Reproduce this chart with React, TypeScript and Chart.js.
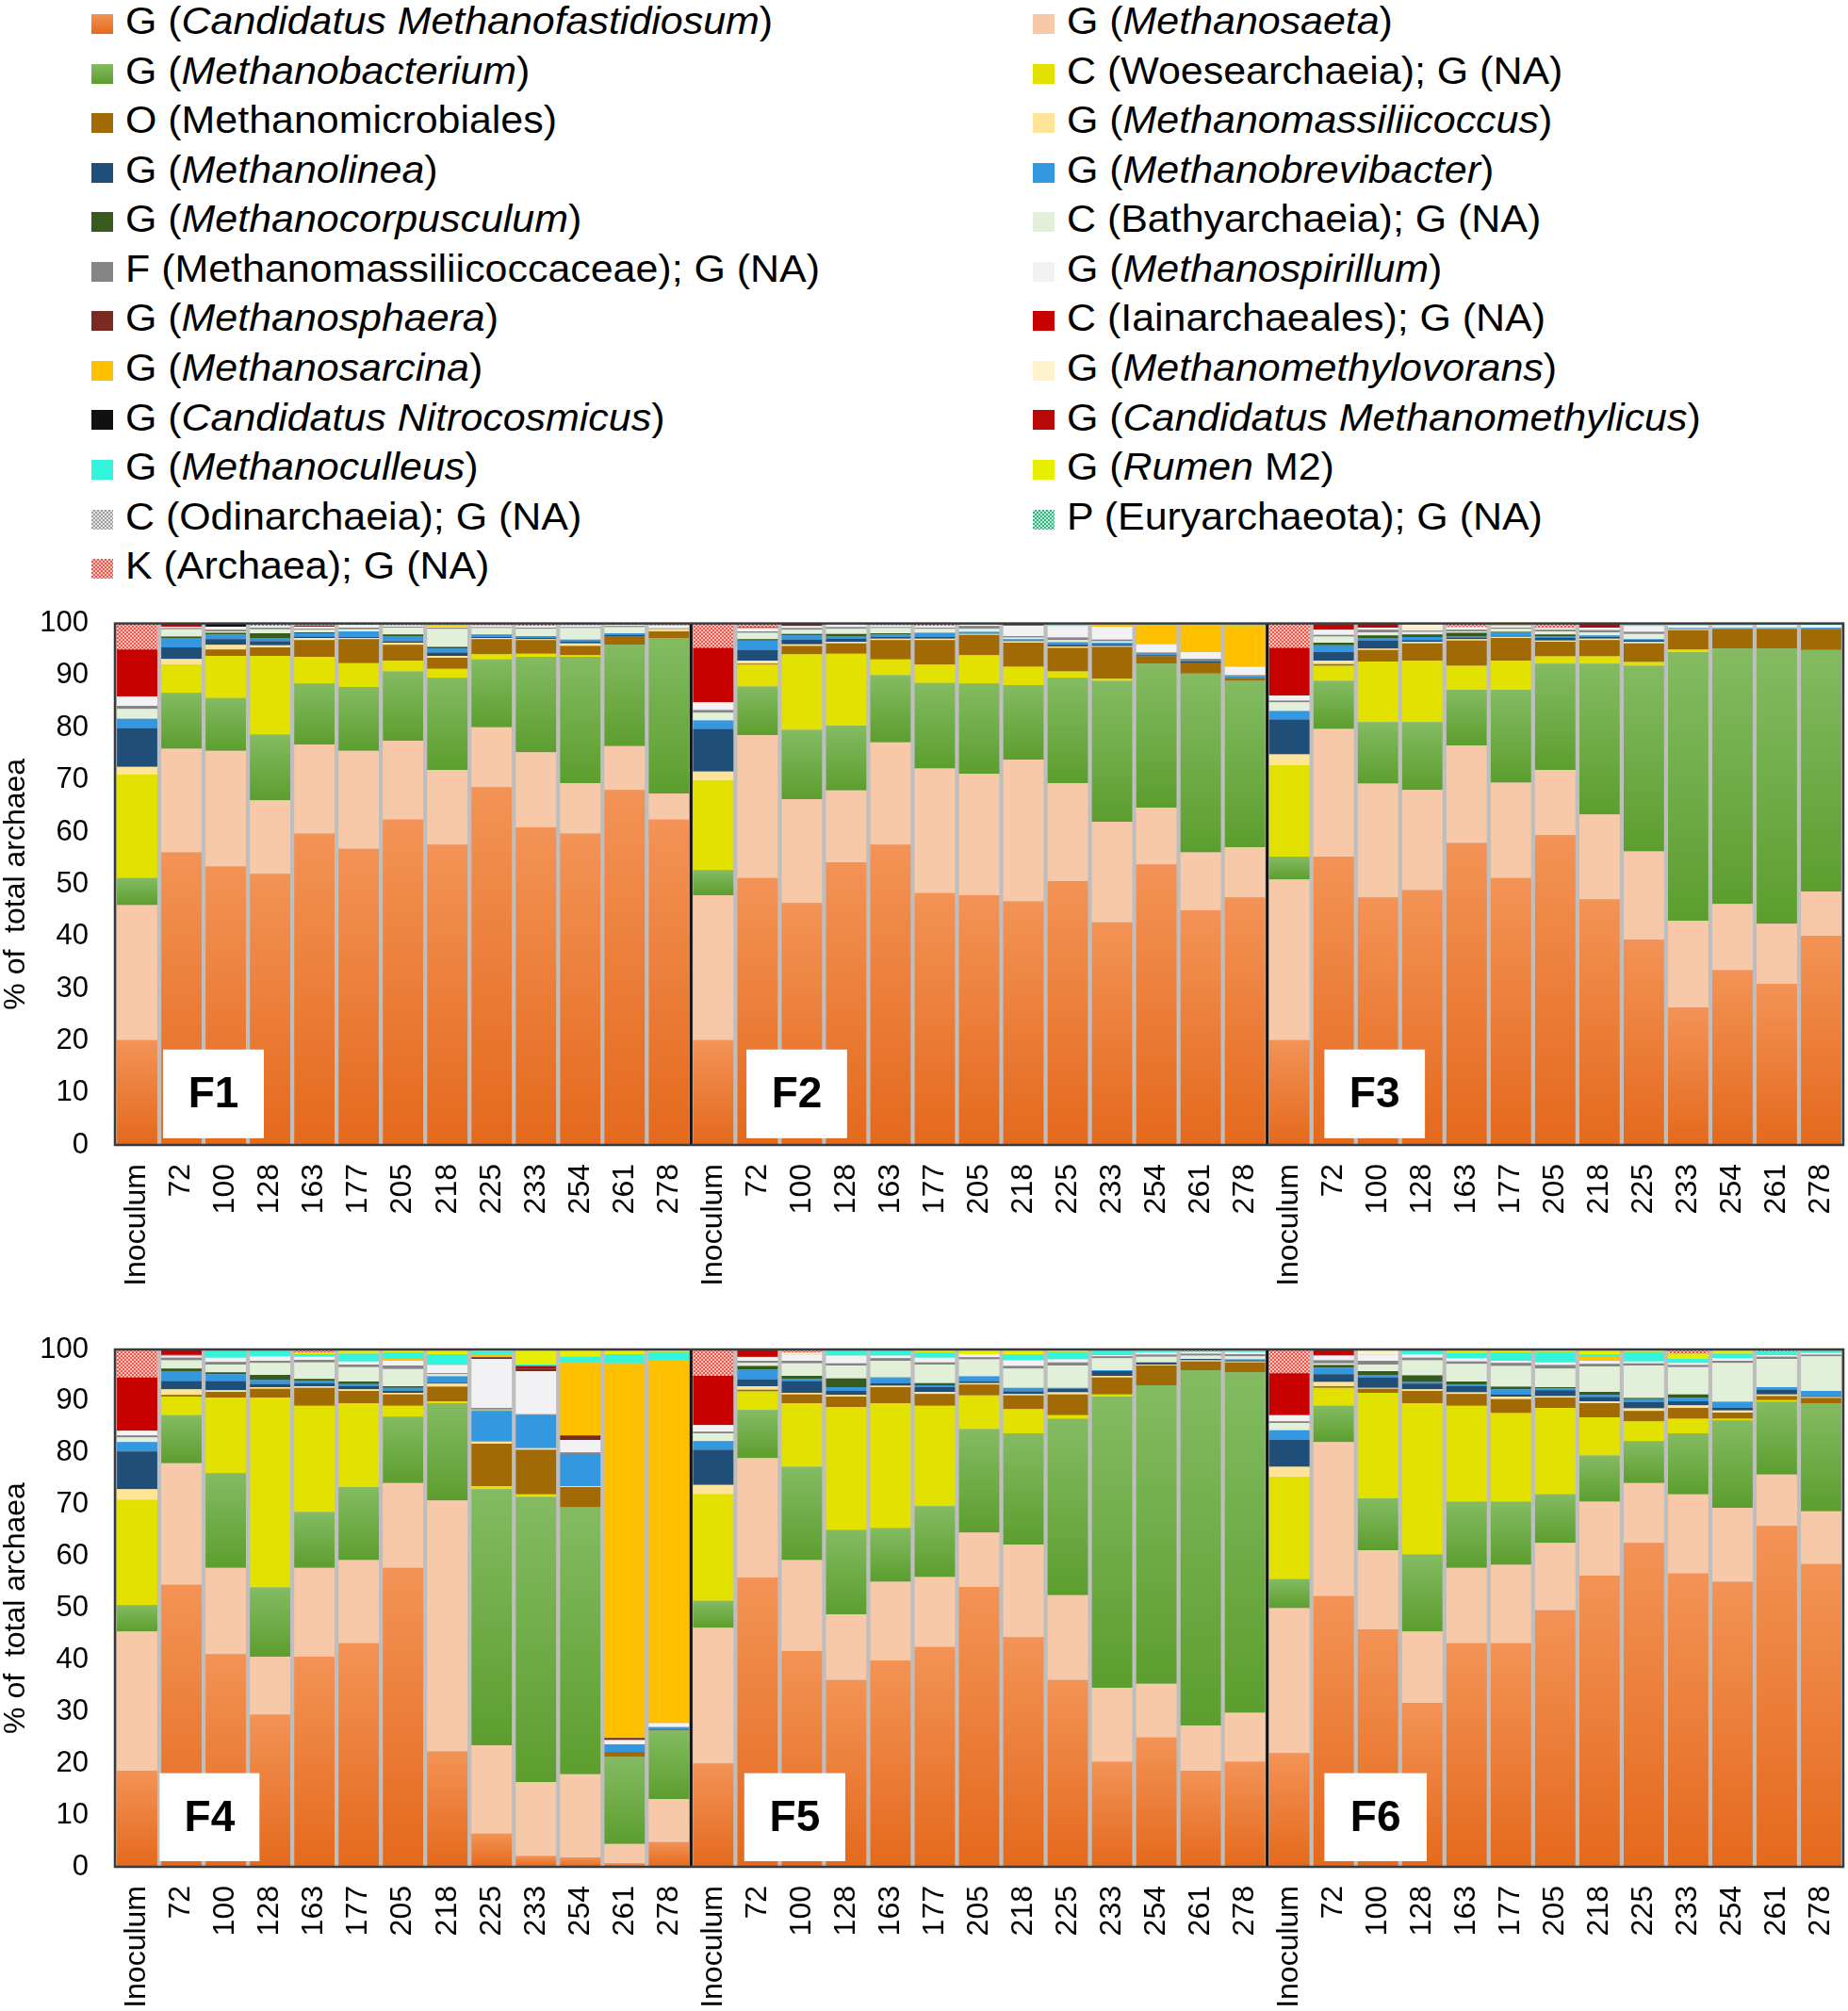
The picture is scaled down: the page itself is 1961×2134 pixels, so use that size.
import React, { useEffect, useRef } from 'react';
import { Chart, registerables } from 'chart.js';

Chart.register(...registerables);

const FONT = '"Liberation Sans", Arial, Helvetica, sans-serif';
Chart.defaults.font.family = FONT;

// ---------- categories / tick labels ----------
const TIMEPOINTS = ['Inoculum', '72', '100', '128', '163', '177', '205', '218', '225', '233', '254', '261', '278'];
const TOP_PANEL = ['F1', 'F2', 'F3'];
const BOTTOM_PANEL = ['F4', 'F5', 'F6'];
const Y_TITLE = '% of  total archaea';

// ---------- series (stack order, bottom -> top) ----------
const SERIES_LABELS: [string, string, string][] = [
  ['G (', 'Candidatus Methanofastidiosum', ')'],
  ['G (', 'Methanosaeta', ')'],
  ['G (', 'Methanobacterium', ')'],
  ['C (Woesearchaeia); G (NA)', '', ''],
  ['O (Methanomicrobiales)', '', ''],
  ['G (', 'Methanomassiliicoccus', ')'],
  ['G (', 'Methanolinea', ')'],
  ['G (', 'Methanobrevibacter', ')'],
  ['G (', 'Methanocorpusculum', ')'],
  ['C (Bathyarchaeia); G (NA)', '', ''],
  ['F (Methanomassiliicoccaceae); G (NA)', '', ''],
  ['G (', 'Methanospirillum', ')'],
  ['G (', 'Methanosphaera', ')'],
  ['C (Iainarchaeales); G (NA)', '', ''],
  ['G (', 'Methanosarcina', ')'],
  ['G (', 'Methanomethylovorans', ')'],
  ['G (', 'Candidatus Nitrocosmicus', ')'],
  ['G (', 'Candidatus Methanomethylicus', ')'],
  ['G (', 'Methanoculleus', ')'],
  ['G (', 'Rumen', ' M2)'],
  ['C (Odinarchaeia); G (NA)', '', ''],
  ['P (Euryarchaeota); G (NA)', '', ''],
  ['K (Archaea); G (NA)', '', ''],
];

const SERIES_COLORS = [
  '#F07B30', '#F8C9A9', '#6DB043', '#E3E100', '#A26A05', '#FFE397',
  '#1F4E79', '#3498E0', '#375A1E', '#E3F0D9', '#858585', '#F2F2F4',
  '#7B2A22', '#C80000', '#FFC000', '#FFF1CC', '#111111', '#B80808',
  '#33F5DC', '#E8EE00', '#B5B5B5', '#5CC898', '#F47A70',
];

// vertical gradients (top, bottom) for some series
const SERIES_GRADIENTS: ([string, string] | null)[] = SERIES_COLORS.map(() => null);
SERIES_GRADIENTS[0] = ['#F39356', '#E4691C'];
SERIES_GRADIENTS[2] = ['#84BB62', '#5C9E2E'];

// checker patterns (colour, background)
const SERIES_PATTERNS: ([string, string] | null)[] = SERIES_COLORS.map(() => null);
SERIES_PATTERNS[20] = ['#A0A0A0', '#E2E2E2'];
SERIES_PATTERNS[21] = ['#33B57E', '#C4EEDC'];
SERIES_PATTERNS[22] = ['#F0554A', '#FFC6C0'];

// ---------- values: each row = one bar (timepoint), columns = series in stack order ----------
const F1: number[][] = [
  [20.1, 25.9, 5.2, 19.8, 0, 1.5, 7.4, 1.8, 0, 1.9, 0.6, 1.8, 0, 9.0, 0, 0, 0, 0, 0, 0, 0, 0, 5.0],
  [56.1, 19.9, 10.7, 5.4, 0, 1.1, 2.2, 1.8, 0.3, 1.4, 0.2, 0.3, 0, 0.6, 0, 0, 0, 0, 0, 0, 0, 0, 0],
  [53.4, 22.2, 10.1, 8.1, 1.2, 0.9, 1.1, 0.9, 0.3, 0.3, 0.3, 0.6, 0, 0, 0, 0, 0.6, 0, 0, 0, 0, 0, 0],
  [52.0, 14.1, 12.6, 15.1, 1.6, 0.4, 0.8, 0.6, 0.9, 0.8, 0.3, 0.3, 0, 0, 0, 0, 0, 0, 0, 0, 0, 0.5, 0],
  [59.7, 17.1, 11.7, 5.1, 3.2, 0.4, 0.3, 0.6, 0.2, 0.5, 0.2, 0.4, 0.2, 0, 0, 0, 0, 0, 0, 0, 0, 0.4, 0],
  [56.8, 18.8, 12.2, 4.6, 4.6, 0.2, 0.2, 1.1, 0, 0.4, 0.3, 0.5, 0, 0, 0, 0, 0, 0, 0, 0, 0, 0.3, 0],
  [62.4, 15.1, 13.3, 2.1, 3.0, 0.4, 0.3, 1.0, 0.3, 1.3, 0.2, 0.2, 0, 0, 0, 0, 0, 0, 0, 0, 0, 0.4, 0],
  [57.6, 14.3, 17.7, 1.7, 2.1, 0.4, 0.6, 0.8, 0.3, 3.5, 0.2, 0.2, 0, 0, 0.3, 0, 0, 0, 0, 0, 0, 0.3, 0],
  [68.6, 11.5, 13.0, 1.0, 2.9, 0.2, 0.2, 0.5, 0, 1.2, 0.2, 0.3, 0, 0, 0, 0, 0, 0, 0, 0, 0, 0, 0.4],
  [60.9, 14.4, 18.3, 0.6, 2.6, 0.2, 0.2, 0.4, 0, 1.4, 0.2, 0.3, 0, 0, 0, 0, 0, 0, 0, 0, 0, 0, 0.5],
  [59.7, 9.7, 24.2, 0.3, 1.8, 0.5, 0.3, 0.4, 0, 2.2, 0.2, 0.3, 0, 0, 0, 0, 0, 0, 0, 0, 0, 0.4, 0],
  [68.1, 8.4, 19.4, 0, 1.7, 0, 0.2, 0.3, 0, 1.2, 0.2, 0.2, 0, 0, 0, 0, 0, 0, 0, 0, 0, 0.3, 0],
  [62.4, 5.0, 29.8, 0, 1.3, 0.3, 0, 0.1, 0, 0.2, 0.1, 0.4, 0, 0, 0, 0, 0, 0, 0, 0, 0, 0, 0.4],
];

const F2: number[][] = [
  [20.1, 27.8, 4.8, 17.2, 0, 1.7, 8.2, 1.6, 0, 1.5, 0.5, 1.5, 0, 10.4, 0, 0, 0, 0, 0, 0, 0, 0, 4.7],
  [51.2, 27.4, 9.3, 4.2, 0.2, 0.6, 2.0, 1.8, 0.3, 1.2, 0.3, 0.6, 0, 0.2, 0, 0, 0, 0, 0, 0, 0, 0, 0.7],
  [46.4, 19.9, 13.3, 14.5, 1.6, 0.3, 0.9, 0.8, 0.3, 0.8, 0.3, 0.4, 0, 0.5, 0, 0, 0, 0, 0, 0, 0, 0, 0],
  [54.2, 13.8, 12.4, 13.8, 2.0, 0.3, 0.6, 0.4, 0.5, 1.0, 0.3, 0.3, 0, 0, 0, 0.4, 0, 0, 0, 0, 0, 0, 0],
  [57.6, 19.6, 12.9, 3.0, 3.7, 0.3, 0.3, 0.5, 0.2, 1.0, 0.2, 0.3, 0, 0, 0, 0, 0, 0, 0, 0, 0, 0.4, 0],
  [48.3, 23.9, 16.4, 3.5, 4.7, 0.3, 0.3, 0.8, 0, 0.8, 0.2, 0.3, 0, 0, 0, 0, 0, 0, 0, 0, 0, 0, 0.5],
  [47.9, 23.3, 17.3, 5.4, 3.9, 0.2, 0, 0.4, 0, 0.6, 0.5, 0.3, 0, 0, 0, 0, 0, 0, 0, 0, 0, 0.2, 0],
  [46.7, 27.2, 14.3, 3.5, 4.6, 0.3, 0.1, 0.3, 0, 0.3, 0.3, 2.0, 0, 0, 0, 0, 0.4, 0, 0, 0, 0, 0, 0],
  [50.6, 18.8, 20.2, 1.2, 4.5, 0.3, 0.3, 0.5, 0, 0.4, 0.5, 2.2, 0, 0, 0, 0, 0, 0, 0.5, 0, 0, 0, 0],
  [42.7, 19.3, 27.0, 0.4, 6.1, 0.2, 0.3, 0.3, 0, 0.3, 0.3, 2.5, 0, 0, 0.6, 0, 0, 0, 0, 0, 0, 0, 0],
  [53.8, 10.9, 27.6, 0, 1.4, 0, 0.2, 0.2, 0, 0, 0.3, 1.6, 0, 0, 3.6, 0, 0, 0, 0.4, 0, 0, 0, 0],
  [45.0, 11.1, 34.3, 0, 2.0, 0, 0.3, 0.2, 0, 0, 0.3, 1.3, 0, 0, 5.3, 0, 0, 0, 0.2, 0, 0, 0, 0],
  [47.5, 9.6, 31.9, 0, 0.6, 0, 0, 0.3, 0, 0, 0.2, 1.6, 0, 0, 7.8, 0, 0, 0, 0.5, 0, 0, 0, 0],
];

const F3: number[][] = [
  [20.1, 30.8, 4.4, 17.5, 0, 2.1, 6.7, 1.6, 0, 1.7, 0.3, 1.0, 0, 9.1, 0, 0, 0, 0, 0, 0, 0, 0, 4.7],
  [55.3, 24.5, 9.2, 2.9, 0.3, 0.7, 1.6, 1.3, 0.5, 1.2, 0.3, 1.0, 0, 1.0, 0, 0, 0, 0, 0, 0, 0, 0, 0.2],
  [47.5, 21.8, 11.8, 11.6, 2.2, 0.3, 1.5, 0.5, 0.5, 0.6, 0.5, 0.4, 0, 0.8, 0, 0, 0, 0, 0, 0, 0, 0, 0],
  [48.9, 19.2, 13.0, 11.8, 3.3, 0.3, 0.3, 0.6, 0.5, 0.5, 0.2, 0.4, 0, 0, 0, 1.0, 0, 0, 0, 0, 0, 0, 0],
  [57.9, 18.7, 10.7, 4.6, 4.8, 0.3, 0.3, 0.3, 0.6, 0.3, 0.3, 0.5, 0, 0, 0, 0, 0, 0, 0, 0, 0, 0, 0.7],
  [51.2, 18.3, 17.8, 5.6, 4.3, 0.2, 0, 0.8, 0.2, 0.6, 0.2, 0.3, 0, 0, 0.5, 0, 0, 0, 0, 0, 0, 0, 0],
  [59.4, 12.5, 20.4, 1.4, 2.8, 0.2, 0.5, 0.3, 0.4, 0.6, 0.3, 0.3, 0, 0, 0, 0, 0, 0, 0, 0, 0, 0, 0.9],
  [47.1, 16.3, 28.9, 1.4, 3.1, 0.3, 0.3, 0.3, 0, 0.6, 0.4, 0.5, 0, 0, 0, 0, 0, 0.8, 0, 0, 0, 0, 0],
  [39.4, 16.9, 35.6, 0.7, 3.6, 0.3, 0.3, 0.2, 0, 1.0, 0.4, 1.1, 0, 0, 0, 0, 0, 0, 0.5, 0, 0, 0, 0],
  [26.4, 16.6, 51.5, 0.5, 3.7, 0.2, 0, 0.2, 0, 0, 0, 0.5, 0, 0, 0, 0, 0, 0, 0.4, 0, 0, 0, 0],
  [33.5, 12.7, 49.0, 0, 3.7, 0, 0, 0.2, 0, 0.2, 0, 0.3, 0, 0, 0, 0, 0, 0, 0.4, 0, 0, 0, 0],
  [30.9, 11.5, 52.8, 0, 3.7, 0, 0, 0.2, 0, 0.2, 0, 0.4, 0, 0, 0, 0, 0, 0, 0.3, 0, 0, 0, 0],
  [40.1, 8.5, 46.3, 0, 4.0, 0, 0, 0.3, 0, 0, 0, 0.5, 0, 0, 0, 0, 0, 0, 0.3, 0, 0, 0, 0],
];

const F4: number[][] = [
  [18.6, 26.9, 5.1, 20.3, 0, 2.1, 7.3, 1.8, 0, 0.9, 0.4, 0.9, 0, 10.3, 0, 0, 0, 0, 0, 0, 0, 0, 5.4],
  [54.5, 23.5, 9.3, 3.6, 0.3, 1.1, 1.6, 1.9, 0.5, 1.6, 0.5, 0.4, 0.2, 1.0, 0, 0, 0, 0, 0, 0, 0, 0, 0],
  [41.1, 16.7, 18.3, 14.6, 1.1, 0.3, 1.8, 1.3, 0.4, 1.5, 0.5, 0.8, 0, 0, 0, 0, 0, 0, 1.6, 0, 0, 0, 0],
  [29.4, 11.2, 13.4, 36.7, 1.7, 0.3, 0.6, 0.8, 1.0, 2.3, 0.4, 0.9, 0, 0, 0, 0, 0, 0, 1.3, 0, 0, 0, 0],
  [40.6, 17.2, 10.8, 20.5, 3.5, 0.3, 0.6, 0.5, 0.3, 3.2, 0.5, 0.6, 0, 0, 0, 0, 0, 0, 0.5, 0.3, 0, 0, 0.6],
  [43.2, 16.1, 14.1, 16.2, 2.4, 0.3, 0.6, 0.4, 0.5, 2.8, 0.5, 0.6, 0, 0, 0, 0, 0, 0, 1.5, 0.8, 0, 0, 0],
  [57.8, 16.4, 12.8, 2.1, 2.2, 0.3, 0.4, 0.6, 0.3, 3.3, 0.7, 0.9, 0, 0, 0.5, 0, 0, 0, 1.1, 0.6, 0, 0, 0],
  [22.3, 48.5, 18.8, 0.4, 2.8, 0.6, 0.2, 1.2, 0, 0.4, 0.2, 1.6, 0, 0, 0, 0, 0, 0, 2.1, 0.9, 0, 0, 0],
  [6.4, 17.1, 49.5, 0.6, 8.2, 0.4, 0, 5.9, 0.1, 0.2, 0.3, 9.5, 0.3, 0, 0.5, 0, 0, 0, 0.6, 0.4, 0, 0, 0],
  [2.1, 14.3, 55.1, 0.5, 8.6, 0.3, 0, 6.4, 0, 0, 0.2, 8.3, 0.5, 0, 0, 0, 0, 0.5, 0.3, 2.9, 0, 0, 0],
  [1.8, 16.1, 51.6, 0, 3.9, 0.2, 0, 6.2, 0, 0, 0.3, 2.4, 0.9, 0, 14.0, 0, 0, 0, 1.2, 1.4, 0, 0, 0],
  [0.7, 3.7, 16.8, 0, 1.0, 0, 0, 1.3, 0, 0, 0.2, 0.8, 0.4, 0, 72.4, 0, 0, 0, 1.8, 0.9, 0, 0, 0],
  [4.8, 8.3, 13.2, 0, 0.3, 0, 0, 0.4, 0, 0, 0, 0.8, 0, 0, 70.1, 0, 0, 0, 1.6, 0.5, 0, 0, 0],
];

const F5: number[][] = [
  [20.0, 26.2, 5.2, 20.6, 0, 1.8, 6.8, 1.7, 0, 1.5, 0.3, 1.3, 0, 9.5, 0, 0, 0, 0, 0, 0, 0, 0, 5.1],
  [55.9, 23.1, 9.3, 3.6, 0.3, 0.7, 1.3, 1.9, 0.7, 0.6, 0.4, 0.7, 0.2, 1.3, 0, 0, 0, 0, 0, 0, 0, 0, 0],
  [41.7, 17.6, 18.0, 12.3, 1.7, 0.3, 2.3, 0.4, 0.6, 2.4, 0.5, 1.2, 0, 0, 0, 0.4, 0, 0, 0, 0, 0, 0, 0.6],
  [36.1, 12.7, 16.3, 23.8, 2.0, 0.3, 0.8, 0.7, 1.7, 2.5, 0.4, 1.5, 0, 0, 0, 0, 0, 0, 1.2, 0, 0, 0, 0],
  [39.9, 15.2, 10.4, 24.1, 3.1, 0.3, 0.5, 1.0, 0.1, 3.2, 0.5, 0.5, 0, 0, 0, 0, 0, 0, 1.2, 0, 0, 0, 0],
  [42.5, 13.5, 13.7, 19.4, 2.3, 0.4, 0.9, 0.4, 0.4, 3.6, 0.4, 0.9, 0, 0, 0, 0, 0, 0, 1.0, 0.6, 0, 0, 0],
  [54.1, 10.5, 20.0, 6.5, 2.1, 0.3, 0.3, 1.0, 0, 3.3, 0.4, 0.6, 0, 0, 0, 0, 0, 0, 0, 0.9, 0, 0, 0],
  [44.4, 17.9, 21.5, 4.7, 2.6, 0.3, 0.5, 0.7, 0, 3.7, 0.5, 1.1, 0, 0, 0, 0, 0, 0, 1.1, 1.0, 0, 0, 0],
  [36.1, 16.4, 34.1, 0.7, 4.0, 0.4, 0.7, 0.2, 0, 4.3, 0.6, 0.6, 0, 0, 0, 0, 0, 0, 1.4, 0.5, 0, 0, 0],
  [20.3, 14.3, 56.3, 0.4, 3.3, 0.3, 0.9, 0.2, 0, 2.3, 0.4, 0.2, 0, 0, 0, 0, 0, 0, 1.1, 0, 0, 0, 0],
  [25.0, 10.4, 57.7, 0, 3.8, 0.2, 0.4, 0, 0, 1.1, 0.4, 0.4, 0, 0, 0, 0, 0, 0, 0.3, 0.3, 0, 0, 0],
  [18.6, 8.7, 68.7, 0, 1.7, 0.2, 0.3, 0, 0, 0.6, 0.4, 0.3, 0, 0, 0, 0, 0, 0, 0, 0, 0, 0.5, 0],
  [20.3, 9.5, 65.8, 0, 1.9, 0.2, 0.2, 0.2, 0, 0.6, 0.4, 0.4, 0, 0, 0, 0, 0, 0, 0.2, 0.3, 0, 0, 0],
];

const F6: number[][] = [
  [22.0, 28.0, 5.6, 19.7, 0, 2.0, 5.2, 1.9, 0, 1.4, 0.3, 1.2, 0, 8.1, 0, 0, 0, 0, 0, 0, 0, 0, 4.6],
  [52.3, 29.8, 7.0, 3.5, 0.3, 0.8, 1.5, 1.3, 0.5, 0.3, 0.6, 0.9, 0.3, 0.9, 0, 0, 0, 0, 0, 0, 0, 0, 0],
  [45.9, 15.3, 10.0, 20.4, 0.8, 0.2, 2.0, 0.4, 0.8, 1.3, 0.7, 1.2, 0, 0, 0, 1.0, 0, 0, 0, 0, 0, 0, 0],
  [31.7, 13.8, 14.9, 29.2, 2.4, 0.3, 1.1, 0.3, 1.3, 2.9, 0.5, 0.7, 0, 0, 0, 0, 0, 0, 0.9, 0, 0, 0, 0],
  [43.2, 14.6, 12.8, 18.5, 2.3, 0.3, 1.2, 0.3, 0.6, 3.4, 0.5, 0.6, 0, 0, 0, 0, 0, 0, 1.0, 0.7, 0, 0, 0],
  [43.2, 15.2, 12.2, 17.1, 2.7, 0.5, 0.4, 1.0, 0.5, 4.0, 0.6, 0.4, 0, 0, 0, 0, 0, 0, 1.6, 0.6, 0, 0, 0],
  [49.6, 13.0, 9.4, 16.7, 2.0, 0.3, 1.1, 0.4, 0.2, 3.6, 0.7, 0.5, 0, 0, 0, 0, 0, 0, 2.0, 0.5, 0, 0, 0],
  [56.3, 14.3, 8.9, 7.4, 2.7, 0.4, 0.8, 0.4, 0.6, 4.9, 0.5, 0.6, 0, 0, 0.8, 0, 0, 0, 0.4, 1.0, 0, 0, 0],
  [62.6, 11.6, 8.1, 3.8, 2.0, 0.5, 1.2, 0.6, 0.2, 6.3, 0.4, 0.4, 0, 0, 0, 0, 0, 0, 1.8, 0.5, 0, 0, 0],
  [56.7, 15.3, 11.8, 2.8, 2.1, 0.5, 0.8, 0.6, 0.7, 5.3, 0.4, 0.4, 0, 0, 0, 0, 0, 0, 0.8, 1.0, 0, 0, 0.8],
  [55.1, 14.3, 16.9, 0.3, 1.2, 0.4, 0.5, 1.2, 0, 7.5, 0.4, 0.5, 0, 0, 0, 0, 0, 0, 0.9, 0.8, 0, 0, 0],
  [65.9, 9.9, 14.1, 0.3, 0.8, 0.3, 0.9, 0.5, 0, 5.5, 0.4, 0.3, 0, 0, 0, 0, 0, 0, 0.7, 0, 0, 0.4, 0],
  [58.5, 10.2, 20.9, 0, 1.0, 0.2, 0.2, 1.0, 0, 6.7, 0.3, 0.3, 0, 0, 0, 0, 0, 0, 0.7, 0, 0, 0, 0],
];

// ---------- helpers ----------
function makePattern(fg: string, bg: string): CanvasPattern | string {
  const c = document.createElement('canvas');
  c.width = 4;
  c.height = 4;
  const g = c.getContext('2d');
  if (!g) return fg;
  g.fillStyle = bg;
  g.fillRect(0, 0, 4, 4);
  g.fillStyle = fg;
  g.fillRect(0, 0, 2, 2);
  g.fillRect(2, 2, 2, 2);
  return g.createPattern(c, 'repeat') || fg;
}

function segGradient(c: any, top: string, bottom: string) {
  const chart = c.chart;
  const ys = chart.scales && chart.scales.y;
  if (!ys || c.type !== 'data') return top;
  const di = c.datasetIndex;
  const i = c.dataIndex;
  let start = 0;
  for (let k = 0; k < di; k++) start += chart.data.datasets[k].data[i] as number;
  const end = start + (chart.data.datasets[di].data[i] as number);
  const yTop = ys.getPixelForValue(end);
  const yBot = ys.getPixelForValue(start);
  if (!isFinite(yTop) || !isFinite(yBot) || Math.abs(yBot - yTop) < 1) return top;
  const g = chart.ctx.createLinearGradient(0, yTop, 0, yBot);
  g.addColorStop(0, top);
  g.addColorStop(1, bottom);
  return g;
}

type PanelSpec = {
  names: string[];
  groups: number[][][];
  boxes: [number, number][];
  boxY: [number, number];
  top: number;
  height: number;
  padTop: number;
  xHeight: number;
};

function decoPlugin(spec: PanelSpec) {
  return {
    id: 'panelDeco',
    beforeDatasetsDraw(chart: any) {
      const { ctx, chartArea: a } = chart;
      ctx.save();
      ctx.fillStyle = '#BEBEBE';
      ctx.fillRect(a.left, a.top, a.width, a.height);
      ctx.restore();
    },
    afterDatasetsDraw(chart: any) {
      const { ctx, chartArea: a } = chart;
      const x = chart.scales.x;
      const y = chart.scales.y;
      ctx.save();
      ctx.strokeStyle = '#111111';
      ctx.lineWidth = 3;
      [12.5, 25.5].forEach((v) => {
        const px = x.getPixelForValue(v);
        ctx.beginPath();
        ctx.moveTo(px, a.top);
        ctx.lineTo(px, a.bottom);
        ctx.stroke();
      });
      ctx.strokeStyle = '#3A3A3A';
      ctx.lineWidth = 2.5;
      ctx.strokeRect(a.left, a.top, a.width, a.height);
      spec.names.forEach((name, k) => {
        const [l, r] = spec.boxes[k];
        const x0 = x.getPixelForValue(l);
        const x1 = x.getPixelForValue(r);
        const y0 = y.getPixelForValue(spec.boxY[0]);
        const y1 = y.getPixelForValue(spec.boxY[1]);
        ctx.fillStyle = '#FFFFFF';
        ctx.fillRect(x0, y0, x1 - x0, y1 - y0);
        ctx.fillStyle = '#000000';
        ctx.font = 'bold 46px ' + FONT;
        ctx.textAlign = 'center';
        ctx.textBaseline = 'middle';
        ctx.fillText(name, (x0 + x1) / 2, (y0 + y1) / 2 + 2);
      });
      ctx.restore();
    },
  };
}

function Panel({ spec }: { spec: PanelSpec }) {
  const ref = useRef<HTMLCanvasElement | null>(null);
  useEffect(() => {
    if (!ref.current) return;
    const labels = spec.groups.flatMap(() => TIMEPOINTS);
    const datasets = SERIES_LABELS.map((lab, s) => {
      const data = spec.groups.flatMap((g) => g.map((row) => row[s]));
      const grad = SERIES_GRADIENTS[s];
      const pat = SERIES_PATTERNS[s];
      let bg: any = SERIES_COLORS[s];
      if (pat) bg = makePattern(pat[0], pat[1]);
      else if (grad) bg = (c: any) => segGradient(c, grad[0], grad[1]);
      return {
        label: lab.join(''),
        data,
        backgroundColor: bg,
        borderWidth: 0,
        barPercentage: 0.91,
        categoryPercentage: 1,
      };
    });
    const chart = new Chart(ref.current, {
      type: 'bar',
      data: { labels, datasets },
      options: {
        responsive: false,
        animation: false,
        events: [],
        layout: { padding: { top: spec.padTop, right: 5, bottom: 0, left: 0 } },
        plugins: { legend: { display: false }, tooltip: { enabled: false } },
        scales: {
          x: {
            stacked: true,
            grid: { display: false, drawTicks: false },
            border: { display: false },
            ticks: {
              autoSkip: false,
              maxRotation: 90,
              minRotation: 90,
              padding: 20,
              color: '#000000',
              font: { size: 32 },
            },
            afterFit: (s: any) => {
              s.height = spec.xHeight;
              s.paddingLeft = 0;
              s.paddingRight = 0;
            },
          },
          y: {
            stacked: true,
            min: 0,
            max: 100,
            grid: { display: false, drawTicks: false },
            border: { display: false },
            ticks: { stepSize: 10, padding: 28, color: '#000000', font: { size: 31 } },
            title: {
              display: true,
              text: Y_TITLE,
              color: '#000000',
              font: { size: 32, lineHeight: 1 },
              padding: { top: 1, bottom: 0 },
            },
            afterFit: (s: any) => {
              s.width = 122;
              s.paddingTop = 0;
              s.paddingBottom = 0;
            },
          },
        },
      } as any,
      plugins: [decoPlugin(spec) as any],
    });
    return () => chart.destroy();
  }, [spec]);
  return (
    <canvas
      ref={ref}
      width={1961}
      height={spec.height}
      style={{ position: 'absolute', left: 0, top: spec.top, display: 'block' }}
    />
  );
}

const TOP_SPEC: PanelSpec = {
  names: TOP_PANEL,
  groups: [F1, F2, F3],
  boxes: [[0.584, 2.86], [13.75, 16.02], [26.79, 29.06]],
  boxY: [18.3, 1.3],
  top: 640,
  height: 760,
  padTop: 21.6,
  xHeight: 185,
};

const BOTTOM_SPEC: PanelSpec = {
  names: BOTTOM_PANEL,
  groups: [F4, F5, F6],
  boxes: [[0.51, 2.76], [13.7, 15.98], [26.79, 29.1]],
  boxY: [18.1, 1.1],
  top: 1410,
  height: 724,
  padTop: 22,
  xHeight: 153,
};

function legendBackground(i: number): string {
  const p = SERIES_PATTERNS[i];
  if (p) return `repeating-conic-gradient(${p[0]} 0 25%, ${p[1]} 0 50%) 0 0 / 4px 4px`;
  const g = SERIES_GRADIENTS[i];
  if (g) return `linear-gradient(${g[0]}, ${g[1]})`;
  return SERIES_COLORS[i];
}

function Legend() {
  const squareX = [97, 1096];
  const textX = [133, 1132];
  const base0 = 36;
  const rowStep = 52.55;
  return (
    <>
      {SERIES_LABELS.map((lab, i) => {
        const col = i % 2;
        const row = Math.floor(i / 2);
        const base = base0 + rowStep * row;
        return (
          <React.Fragment key={i}>
            <div
              style={{
                position: 'absolute',
                left: squareX[col],
                top: base - 21,
                width: 23,
                height: 21,
                background: legendBackground(i),
              }}
            />
            <div
              style={{
                position: 'absolute',
                left: textX[col],
                top: base - 37.9,
                fontFamily: FONT,
                fontSize: 40,
                lineHeight: '48px',
                color: '#000000',
                whiteSpace: 'pre',
                transform: 'scaleX(1.073)',
                transformOrigin: 'left center',
              }}
            >
              {lab[0]}
              {lab[1] ? <i>{lab[1]}</i> : null}
              {lab[2]}
            </div>
          </React.Fragment>
        );
      })}
    </>
  );
}

export default function App() {
  return (
    <div
      style={{
        position: 'absolute',
        left: 0,
        top: 0,
        width: 1961,
        height: 2134,
        overflow: 'hidden',
        background: '#FFFFFF',
      }}
    >
      <Legend />
      <Panel spec={TOP_SPEC} />
      <Panel spec={BOTTOM_SPEC} />
    </div>
  );
}
